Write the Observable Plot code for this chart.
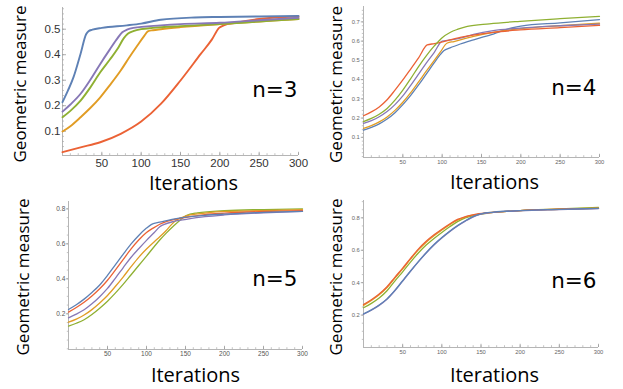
<!DOCTYPE html>
<html><head><meta charset="utf-8">
<script src="https://cdn.jsdelivr.net/npm/d3@7"></script>
<script src="https://cdn.jsdelivr.net/npm/@observablehq/plot@0.6"></script>
<style>
body{margin:0;background:#fff;}
#wrap{position:relative;width:623px;height:389px;overflow:hidden;background:#fff;}
.panel{position:absolute;}
</style></head><body><div id="wrap"></div>
<script>
// ---- series colours (Mathematica defaults) ----
const colors = {blue:"#5E81B5", orange:"#E19C24", green:"#8FB032", red:"#EB6235", purple:"#8778B6"};

// ---- tick labels ----
const xTicks = [50, 100, 150, 200, 250, 300];
const yTicksA = [0.1, 0.2, 0.3, 0.4, 0.5];
const yTicksB = [0.1, 0.2, 0.3, 0.4, 0.5, 0.6, 0.7];
const yTicksC = [0.2, 0.4, 0.6, 0.8];

// ---- n = 3 : [iteration, geometric measure] ----
const n3Blue   = [[0,.214],[7,.26],[14,.312],[23,.404],[30,.48],[33,.492],[38,.498],[50,.505],[82,.515],[100,.522],[125,.537],[168,.546],[200,.548],[250,.55],[300,.552]];
const n3Purple = [[0,.177],[10,.205],[23,.247],[35,.3],[48,.364],[60,.42],[70,.465],[76,.488],[82,.498],[90,.505],[125,.515],[150,.52],[200,.525],[250,.535],[300,.545]];
const n3Green  = [[0,.155],[10,.18],[23,.22],[35,.27],[48,.331],[60,.38],[70,.423],[78,.465],[83,.482],[90,.492],[100,.5],[115,.505],[150,.512],[200,.52],[250,.53],[300,.54]];
const n3Orange = [[0,.099],[10,.12],[23,.155],[35,.19],[48,.233],[60,.28],[74,.338],[85,.39],[95,.435],[103,.47],[109,.492],[115,.496],[125,.5],[150,.508],[200,.52],[250,.53],[300,.54]];
const n3Red    = [[0,.018],[23,.037],[48,.057],[74,.09],[100,.138],[125,.207],[150,.299],[176,.404],[190,.46],[199,.505],[205,.515],[220,.525],[250,.54],[270,.546],[300,.55]];

// ---- n = 4 ----
const n4Blue   = [[0,.137],[10,.152],[20,.17],[30,.195],[40,.228],[50,.27],[60,.318],[70,.372],[80,.43],[90,.488],[97,.527],[102,.55],[110,.565],[123,.585],[140,.607],[165,.637],[190,.67],[200,.678],[250,.695],[300,.712]];
const n4Orange = [[0,.146],[10,.161],[20,.18],[30,.206],[40,.24],[50,.282],[60,.332],[70,.388],[80,.445],[90,.5],[98,.545],[106,.589],[115,.598],[123,.606],[140,.625],[165,.646],[200,.665],[250,.68],[300,.693]];
const n4Purple = [[0,.172],[10,.187],[20,.207],[30,.234],[40,.27],[50,.315],[60,.37],[70,.428],[80,.487],[90,.542],[100,.6],[110,.606],[123,.615],[140,.635],[165,.655],[199,.668],[250,.68],[300,.688]];
const n4Green  = [[0,.182],[10,.198],[20,.22],[30,.25],[40,.293],[50,.345],[60,.405],[70,.468],[80,.525],[90,.575],[100,.618],[110,.645],[120,.662],[132,.677],[160,.69],[199,.703],[250,.717],[300,.729]];
const n4Red    = [[0,.212],[10,.232],[20,.258],[30,.295],[40,.345],[50,.398],[60,.455],[70,.513],[81,.58],[90,.587],[98,.594],[123,.62],[165,.646],[199,.658],[250,.67],[300,.682]];

// ---- n = 5 ----
const n5Blue   = [[0,.225],[10,.252],[20,.284],[30,.322],[40,.365],[50,.42],[60,.48],[70,.54],[80,.598],[90,.648],[100,.69],[106,.71],[115,.722],[126,.733],[140,.745],[151,.753],[175,.763],[200,.77],[250,.78],[300,.785]];
const n5Red    = [[0,.21],[10,.236],[20,.266],[30,.302],[40,.343],[50,.392],[60,.45],[70,.51],[80,.57],[90,.622],[100,.665],[108.5,.69],[117,.712],[126,.728],[140,.743],[151,.752],[175,.767],[200,.775],[250,.785],[300,.79]];
const n5Purple = [[0,.177],[10,.198],[20,.223],[30,.257],[40,.298],[50,.345],[60,.403],[70,.463],[80,.522],[90,.572],[100,.62],[110,.665],[117,.698],[122,.71],[135,.728],[151,.74],[175,.755],[200,.765],[250,.777],[300,.785]];
const n5Orange = [[0,.152],[10,.17],[20,.193],[30,.224],[40,.262],[50,.305],[60,.356],[70,.41],[80,.468],[90,.523],[100,.57],[110,.612],[117,.64],[125,.675],[132,.71],[138,.735],[145,.75],[151,.76],[175,.775],[200,.785],[250,.79],[300,.795]];
const n5Green  = [[0,.13],[10,.146],[20,.166],[30,.196],[40,.232],[50,.272],[60,.318],[70,.368],[80,.422],[90,.476],[100,.53],[110,.585],[117,.622],[125,.66],[135,.703],[143,.735],[151,.762],[165,.777],[200,.79],[250,.796],[300,.80]];

// ---- n = 6 ----
const n6Green  = [[0,.245],[10,.272],[20,.305],[30,.35],[40,.41],[50,.467],[60,.527],[70,.583],[80,.632],[90,.673],[100,.71],[110,.745],[120,.777],[130,.8],[141,.815],[160,.83],[200,.845],[250,.855],[300,.865]];
const n6Orange = [[0,.26],[10,.29],[20,.325],[30,.37],[40,.428],[50,.485],[60,.545],[70,.602],[80,.65],[90,.69],[100,.725],[110,.758],[120,.786],[130,.805],[141,.818],[160,.831],[200,.845],[250,.853],[300,.86]];
const n6Red    = [[0,.265],[10,.295],[20,.33],[30,.375],[40,.433],[50,.49],[60,.55],[70,.607],[80,.655],[90,.695],[100,.73],[110,.762],[120,.79],[130,.807],[141,.82],[160,.832],[200,.845],[250,.853],[300,.858]];
const n6Purple = [[0,.205],[10,.23],[20,.26],[30,.298],[40,.35],[50,.41],[60,.47],[70,.528],[80,.583],[90,.633],[100,.676],[110,.715],[120,.75],[130,.78],[141,.808],[150,.823],[166,.834],[200,.844],[250,.851],[300,.857]];
const n6Blue   = [[0,.207],[10,.232],[20,.262],[30,.3],[40,.352],[50,.412],[60,.472],[70,.53],[80,.585],[90,.635],[100,.678],[110,.717],[120,.752],[130,.782],[141,.81],[150,.825],[166,.835],[200,.845],[250,.852],[300,.858]];

const panels = [
  {left:0, top:0, label:"n=3", mL:62, mR:14, mT:7, mB:40, yDomain:[0.005,0.585], yTicks:yTicksA, yMinor:0.02,
   tickFont:11.5, tickColor:"#333", yPad:2, xPad:3.5, yInward:true, lw:1.9,
   yLab:[20,83.5], xLab:[193,189], nLab:[297,90],
   series:[[n3Red,"red"],[n3Orange,"orange"],[n3Green,"green"],[n3Purple,"purple"],[n3Blue,"blue"]]},
  {left:311, top:0, label:"n=4", mL:52, mR:24, mT:6, mB:38, yDomain:[-0.005,0.78], yTicks:yTicksB, yMinor:0.02,
   tickFont:5.8, tickColor:"#666", yPad:1.5, xPad:2.5, yInward:false, lw:1.3,
   yLab:[25,84], xLab:[183,188], nLab:[285,88],
   series:[[n4Blue,"blue"],[n4Orange,"orange"],[n4Purple,"purple"],[n4Red,"red"],[n4Green,"green"]]},
  {left:0, top:194, label:"n=5", mL:68, mR:10, mT:7, mB:40, yDomain:[-0.004,0.842], yTicks:yTicksC, yMinor:0.05,
   tickFont:6.5, tickColor:"#555", yPad:1, xPad:2, yInward:false, lw:1.3,
   yLab:[23,82.5], xLab:[195,187], nLab:[297,85],
   series:[[n5Green,"green"],[n5Orange,"orange"],[n5Purple,"purple"],[n5Red,"red"],[n5Blue,"blue"]]},
  {left:311, top:194, label:"n=6", mL:52, mR:25, mT:6, mB:42, yDomain:[0,0.907], yTicks:yTicksC, yMinor:0.05,
   tickFont:5.8, tickColor:"#666", yPad:1.5, xPad:2.5, yInward:false, lw:1.3,
   yLab:[25,82.5], xLab:[183,187], nLab:[285,87],
   series:[[n6Green,"green"],[n6Orange,"orange"],[n6Red,"red"],[n6Purple,"purple"],[n6Blue,"blue"]]}
];

const W = 312, H = 195;
const wrap = document.getElementById("wrap");

for (const p of panels) {
  const fw = W - p.mL - p.mR, fh = H - p.mT - p.mB;
  const fcx = p.mL + fw / 2, fcy = p.mT + fh / 2;
  const xMinor = d3.range(10, 301, 10);
  const yMinor = d3.range(Math.ceil(p.yDomain[0] / p.yMinor) * p.yMinor, p.yDomain[1], p.yMinor)
                   .filter(v => v > p.yDomain[0] + 1e-9);
  const marks = [
    Plot.ruleX([0], {stroke:"#b5b5b5", strokeWidth:1}),
    Plot.ruleY([p.yDomain[0]], {stroke:"#b5b5b5", strokeWidth:1}),
    Plot.tickX(xMinor, {x: d => d, insetTop: fh - 1.8, stroke:"#aaa", strokeWidth:0.7}),
    Plot.tickX(xTicks, {x: d => d, insetTop: fh - 3.2, stroke:"#999", strokeWidth:0.8}),
    Plot.axisX({ticks: xTicks, tickSize: 0, tickPadding: p.xPad, fontSize: p.tickFont, fill: p.tickColor,
                fontFamily: "Liberation Sans, Arial, sans-serif", label: null})
  ];
  if (p.yInward) {
    marks.push(
      Plot.tickY(yMinor, {y: d => d, insetRight: fw - 2, stroke:"#aaa", strokeWidth:0.7}),
      Plot.tickY(p.yTicks, {y: d => d, insetRight: fw - 4, stroke:"#999", strokeWidth:0.8}),
      Plot.axisY({ticks: p.yTicks, tickSize: 0, tickPadding: p.yPad, tickFormat: d3.format(".1f"),
                  fontSize: p.tickFont, fill: p.tickColor, fontFamily: "Liberation Sans, Arial, sans-serif", label: null})
    );
  } else {
    marks.push(
      Plot.axisY({ticks: yMinor, tickSize: 1.2, text: null, stroke:"#aaa", strokeWidth:0.7, label: null}),
      Plot.axisY({ticks: p.yTicks, tickSize: 2.2, tickPadding: p.yPad, tickFormat: d3.format(".1f"),
                  stroke:"#999", strokeWidth:0.8,
                  fontSize: p.tickFont, fill: p.tickColor, fontFamily: "Liberation Sans, Arial, sans-serif", label: null})
    );
  }
  for (const [data, c] of p.series) {
    marks.push(Plot.line(data, {x: d => d[0], y: d => d[1], stroke: colors[c], strokeWidth: p.lw, curve: "monotone-x"}));
  }
  marks.push(
    Plot.text(["Geometric measure"], {frameAnchor: "left", dx: p.yLab[0] - p.mL, dy: p.yLab[1] - fcy, rotate: -90,
      textAnchor: "middle", lineAnchor: "middle", fontSize: 17, fill: "#000", fontFamily: "Open Sans, sans-serif"}),
    Plot.text(["Iterations"], {frameAnchor: "bottom", dx: p.xLab[0] - fcx, dy: p.xLab[1] - (p.mT + fh),
      textAnchor: "middle", lineAnchor: "bottom", fontSize: 20, fill: "#000", fontFamily: "Open Sans, sans-serif"}),
    Plot.text([p.label], {frameAnchor: "right", dx: p.nLab[0] - (p.mL + fw), dy: p.nLab[1] - fcy,
      textAnchor: "end", lineAnchor: "middle", fontSize: 21.5, fill: "#000", fontFamily: "DejaVu Sans, sans-serif"})
  );
  const chart = Plot.plot({
    width: W, height: H,
    marginLeft: p.mL, marginRight: p.mR, marginTop: p.mT, marginBottom: p.mB,
    x: {domain: [0, 300]},
    y: {domain: p.yDomain},
    style: {background: "transparent", overflow: "visible"},
    marks
  });
  const div = document.createElement("div");
  div.className = "panel";
  div.style.left = p.left + "px";
  div.style.top = p.top + "px";
  div.appendChild(chart);
  wrap.appendChild(div);
}
</script>
</body></html>
